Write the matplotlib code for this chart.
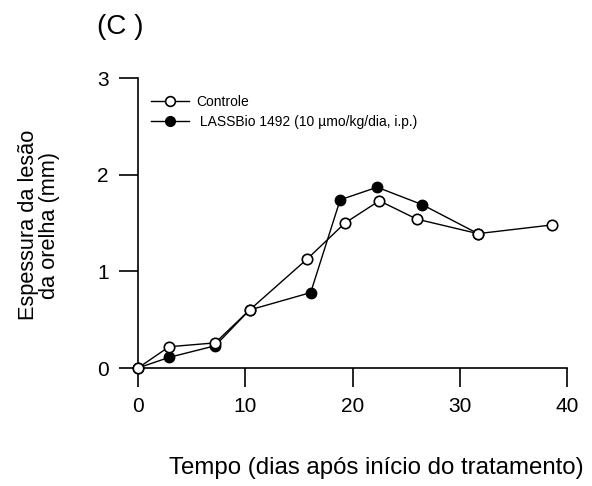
import matplotlib
matplotlib.use("Agg")
import matplotlib.pyplot as plt

plt.rcParams['font.family'] = ['Liberation Sans', 'DejaVu Sans']

# Ear lesion thickness (mm) over days after start of treatment
dias_controle = [0, 2.9, 7.2, 10.4, 15.8, 19.3, 22.5, 26.0, 31.7, 38.6]
controle = [0.0, 0.22, 0.26, 0.60, 1.13, 1.50, 1.73, 1.54, 1.39, 1.48]

dias_lassbio = [0, 2.9, 7.2, 10.4, 16.1, 18.85, 22.3, 26.5, 31.7]
lassbio = [0.0, 0.11, 0.23, 0.60, 0.78, 1.74, 1.87, 1.69, 1.39]

xticks = [0, 10, 20, 30, 40]
yticks = [0, 1, 2, 3]

fig = plt.figure(figsize=(5.92, 4.86), dpi=100)
ax = fig.add_axes([138/592, 1-368/486, 429/592, 290/486])

l2, = ax.plot(dias_lassbio, lassbio, color='black', lw=1.0, marker='o',
              markersize=7.5, markerfacecolor='black', markeredgecolor='black',
              clip_on=False, zorder=3)
l1, = ax.plot(dias_controle, controle, color='black', lw=1.0, marker='o',
              markersize=7.5, markerfacecolor='white', markeredgecolor='black',
              markeredgewidth=1.2, clip_on=False, zorder=4)

ax.set_xlim(0, 40)
ax.set_ylim(0, 3)
ax.set_xticks(xticks)
ax.set_yticks(yticks)
for s in ['top', 'right']:
    ax.spines[s].set_visible(False)
for s in ['left', 'bottom']:
    ax.spines[s].set_linewidth(1.2)
ax.tick_params(axis='both', direction='out', length=14, width=1.2,
               labelsize=15, pad=7)

fig.text(376/592, 1-468/486, 'Tempo (dias após início do tratamento)',
         fontsize=17.3, ha='center', va='center')
fig.text(39/592, 1-225/486, 'Espessura da lesão\nda orelha (mm)',
         fontsize=15.7, rotation=90, ha='center', va='center',
         multialignment='center', linespacing=1.0)

leg = ax.legend([l1, l2], ['Controle', ' LASSBio 1492 (10 µmo/kg/dia, i.p.)'],
                loc='upper left', bbox_to_anchor=(151/592, 1-95/486),
                bbox_transform=fig.transFigure, frameon=False, fontsize=10,
                handlelength=2.7, handletextpad=0.55, labelspacing=0.4,
                borderpad=0, borderaxespad=0)
for h in leg.legend_handles:
    h.set_markersize(7)

fig.text(97/592, 1-27/486, '(C )', fontsize=20, ha='left', va='center')

fig.savefig('out.png', dpi=100)
